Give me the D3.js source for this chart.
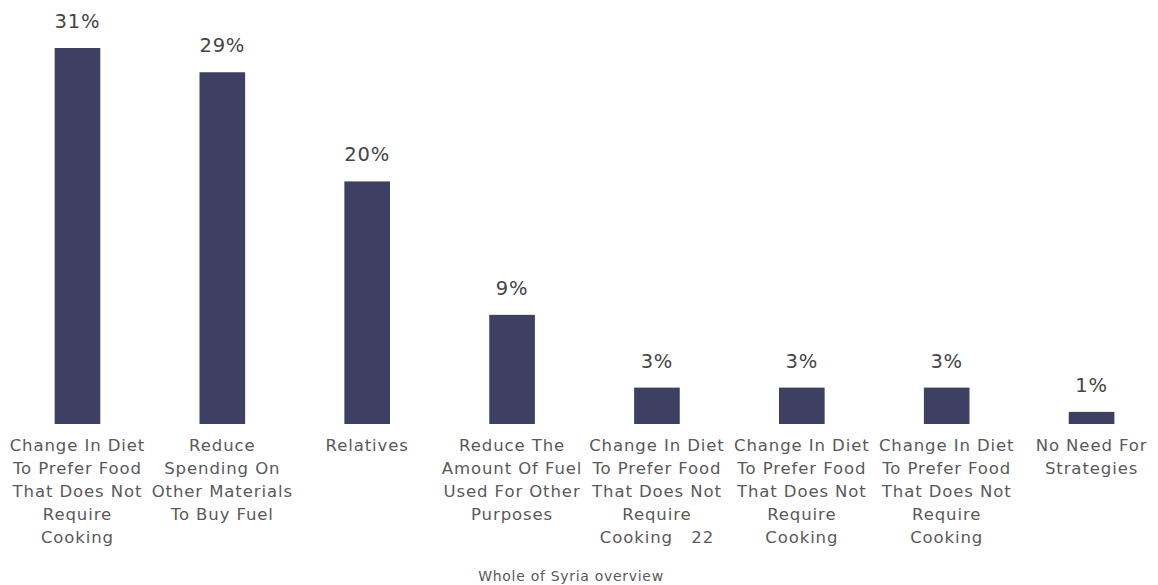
<!DOCTYPE html>
<html>
<head>
<meta charset="utf-8">
<script src="https://cdn.jsdelivr.net/npm/d3@7"></script>
<style>
  html, body { margin: 0; padding: 0; background: #fff; }
  svg text { font-family: "DejaVu Sans", "Noto Sans", sans-serif; }
</style>
</head>
<body>
<svg id="chart" width="1158" height="585"></svg>
<script>
// Coping strategies for fuel shortage (share of respondents)
const categories = [
  "Change In Diet\nTo Prefer Food\nThat Does Not\nRequire\nCooking",
  "Reduce\nSpending On\nOther Materials\nTo Buy Fuel",
  "Relatives",
  "Reduce The\nAmount Of Fuel\nUsed For Other\nPurposes",
  "Change In Diet\nTo Prefer Food\nThat Does Not\nRequire\nCooking   22",
  "Change In Diet\nTo Prefer Food\nThat Does Not\nRequire\nCooking",
  "Change In Diet\nTo Prefer Food\nThat Does Not\nRequire\nCooking",
  "No Need For\nStrategies"
];
const values = [31, 29, 20, 9, 3, 3, 3, 1];
const valueLabels = ["31%", "29%", "20%", "9%", "3%", "3%", "3%", "1%"];
const axisTitle = "Whole of Syria overview";

const svg = d3.select("#chart");
const baseline = 424;
const keys = d3.range(categories.length);

const x = d3.scaleBand()
  .domain(keys)
  .range([5, 1164])
  .paddingInner(0.685)
  .paddingOuter(0.3425);

const y = d3.scaleLinear()
  .domain([0, 31])
  .range([baseline, 48]);

// bars
svg.append("g")
  .selectAll("rect")
  .data(keys)
  .join("rect")
  .attr("x", i => x(i))
  .attr("y", i => y(values[i]))
  .attr("width", x.bandwidth())
  .attr("height", i => baseline - y(values[i]))
  .attr("fill", "#3d3f63");

// value labels
svg.append("g")
  .selectAll("text")
  .data(keys)
  .join("text")
  .attr("x", i => x(i) + x.bandwidth() / 2)
  .attr("y", i => y(values[i]) - 20)
  .attr("text-anchor", "middle")
  .attr("font-size", 19.5)
  .attr("letter-spacing", 0.8)
  .attr("fill", "#454545")
  .text(i => valueLabels[i]);

// category axis (no line, no ticks) with multi-line labels
const axis = svg.append("g")
  .attr("transform", `translate(0,${baseline})`)
  .call(d3.axisBottom(x).tickSize(0).tickFormat(() => ""));
axis.select(".domain").remove();

axis.selectAll(".tick text").each(function(i) {
  const t = d3.select(this)
    .attr("font-size", 16.5)
    .attr("letter-spacing", 0.9)
    .attr("fill", "#595959")
    .attr("y", 0)
    .attr("dy", null)
    .style("white-space", "pre");
  categories[i].split("\n").forEach((line, k) => {
    t.append("tspan")
      .attr("x", 0)
      .attr("y", 27 + k * 23)
      .text(line);
  });
});

// axis title
svg.append("text")
  .attr("x", 571)
  .attr("y", 581)
  .attr("text-anchor", "middle")
  .attr("font-size", 14)
  .attr("letter-spacing", 0.7)
  .attr("fill", "#595959")
  .text(axisTitle);
</script>
</body>
</html>
